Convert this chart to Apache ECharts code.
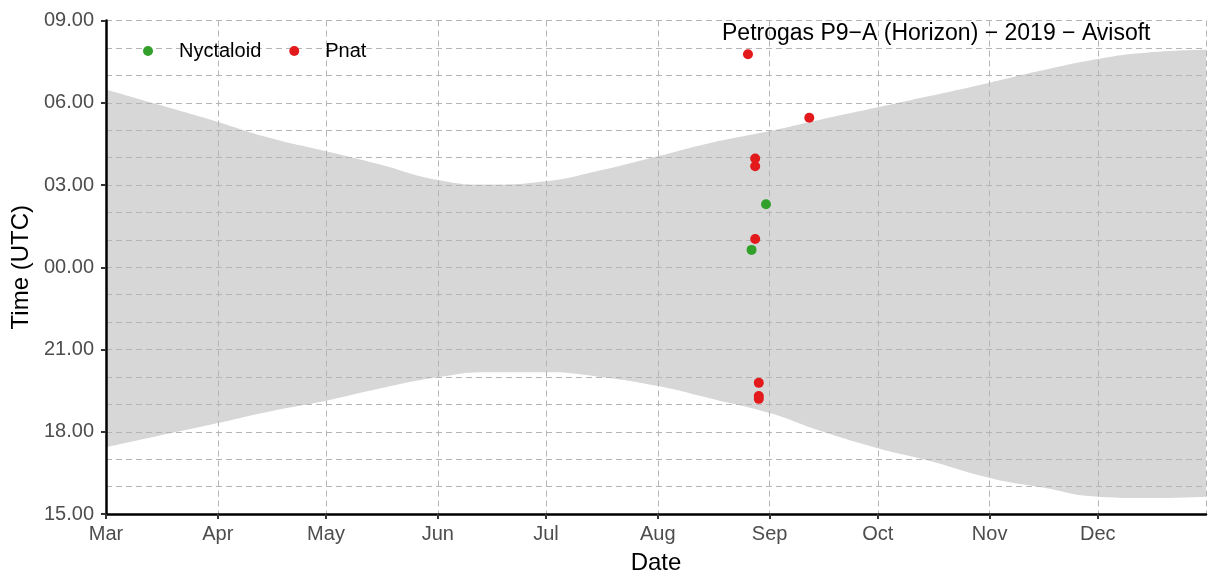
<!DOCTYPE html>
<html>
<head>
<meta charset="utf-8">
<title>Petrogas P9−A (Horizon) − 2019 − Avisoft</title>
<script src="https://cdn.jsdelivr.net/npm/echarts@6/dist/echarts.min.js"></script>
<style>
  html, body { margin: 0; padding: 0; background: #ffffff; }
  #chart { width: 1214px; height: 577px; }
</style>
</head>
<body>
<div id="chart"></div>
<script>
// Night band: sunset (start of night) and sunrise (end of night), UTC clock times
const bandDates = ['2019-03-01','2019-03-15','2019-04-01','2019-04-15','2019-05-01','2019-05-15',
  '2019-06-01','2019-06-15','2019-07-01','2019-07-15','2019-08-01','2019-08-15','2019-09-01',
  '2019-09-15','2019-10-01','2019-10-15','2019-11-01','2019-11-15','2019-12-01','2019-12-15','2019-12-31'];
const sunset  = ['17:26','17:50','18:19','18:44','19:08','19:33','19:59','20:10','20:10','20:01',
  '19:40','19:14','18:41','18:02','17:24','16:57','16:19','15:59','15:38','15:35','15:38'];
const sunrise = ['06:29','05:57','05:18','04:44','04:14','03:47','03:11','03:01','03:08','03:30',
  '04:03','04:31','04:58','05:23','05:50','06:14','06:44','07:10','07:36','07:50','07:56'];

// Recorded bat passes
const nyctaloidDates = ['2019-08-31','2019-08-27'];
const nyctaloidTimes = ['02:18','00:38'];
const pnatDates = ['2019-08-26','2019-09-12','2019-08-28','2019-08-28','2019-08-28','2019-08-29','2019-08-29','2019-08-29'];
const pnatTimes = ['07:46','05:27','03:58','03:41','01:02','19:47','19:18','19:12'];

const seriesNames = ['Nyctaloid', 'Pnat'];
const monthLabels = ['Jan','Feb','Mar','Apr','May','Jun','Jul','Aug','Sep','Oct','Nov','Dec'];
const chartTitle = 'Petrogas P9\u2212A (Horizon) \u2212 2019 \u2212 Avisoft';

// The time axis runs from 15:00 (0) to 09:00 the next morning (18)
const START_HOUR = 15;
function toAxis(clock) {
  const [h, m] = clock.split(':').map(Number);
  return ((h + m / 60) - START_HOUR + 24) % 24;
}
function hourLabel(v) {
  const h = Math.round(START_HOUR + v) % 24;
  return (h < 10 ? '0' : '') + h + '.00';
}

const baseData = bandDates.map((d, i) => [d, toAxis(sunset[i])]);
const bandData = bandDates.map((d, i) => [d, toAxis(sunrise[i]) - toAxis(sunset[i])]);
const nycData = nyctaloidDates.map((d, i) => [d, toAxis(nyctaloidTimes[i])]);
const pnatData = pnatDates.map((d, i) => [d, toAxis(pnatTimes[i])]);

const FONT = 'Liberation Sans, Arial, sans-serif';
const gridLine = { show: true, lineStyle: { color: '#b5b5b5', width: 1, type: [6, 4] } };
const DAY = 24 * 3600 * 1000;

const chart = echarts.init(document.getElementById('chart'), null, { renderer: 'canvas' });
chart.setOption({
  animation: false,
  backgroundColor: '#ffffff',
  textStyle: { fontFamily: FONT },
  title: {
    text: chartTitle,
    left: 722, top: 22, padding: 0,
    textStyle: { fontFamily: FONT, fontSize: 23, fontWeight: 'normal', color: '#000000' }
  },
  legend: {
    data: seriesNames,
    left: 143, top: 41, padding: 0,
    icon: 'circle', itemWidth: 10, itemHeight: 10, itemGap: 28,
    textStyle: { fontFamily: FONT, fontSize: 20, color: '#000000', padding: [0, 0, 0, 21] }
  },
  grid: { left: 106, right: 8, top: 20.5, bottom: 63, containLabel: false, outerBoundsMode: 'none' },
  xAxis: {
    type: 'time',
    min: '2019-03-01', max: '2019-12-31',
    minInterval: 28 * DAY, maxInterval: 31 * DAY,
    splitNumber: 10,
    z: 2,
    name: 'Date', nameLocation: 'middle', nameGap: 37,
    nameTextStyle: { fontFamily: FONT, fontSize: 24, color: '#000000' },
    axisLine: { show: true, onZero: false, lineStyle: { color: '#000000', width: 2.5 } },
    axisTick: { show: true, length: 5, lineStyle: { color: '#333333', width: 2 } },
    axisLabel: {
      fontFamily: FONT, fontSize: 20, color: '#4d4d4d', margin: 10,
      formatter: v => monthLabels[new Date(v).getMonth()]
    },
    splitLine: gridLine
  },
  yAxis: {
    type: 'value',
    min: 0, max: 18, interval: 3,
    z: 2,
    name: 'Time (UTC)', nameLocation: 'middle', nameGap: 70,
    nameTextStyle: { fontFamily: FONT, fontSize: 24, color: '#000000' },
    axisLine: { show: true, lineStyle: { color: '#000000', width: 2.5 } },
    axisTick: { show: true, length: 5, lineStyle: { color: '#333333', width: 2 } },
    axisLabel: { fontFamily: FONT, fontSize: 20, color: '#4d4d4d', margin: 12, formatter: hourLabel },
    splitLine: gridLine,
    minorTick: { show: false, splitNumber: 3 },
    minorSplitLine: gridLine
  },
  series: [
    {
      name: 'sunset', type: 'line', stack: 'night', data: baseData,
      smooth: true, symbol: 'none', silent: true, z: 1,
      lineStyle: { opacity: 0 }
    },
    {
      name: 'night', type: 'line', stack: 'night', data: bandData,
      smooth: true, symbol: 'none', silent: true, z: 1,
      lineStyle: { opacity: 0 },
      areaStyle: { color: '#d7d7d7', opacity: 1 }
    },
    {
      name: seriesNames[0], type: 'scatter', data: nycData, z: 3,
      symbol: 'circle', symbolSize: 10, itemStyle: { color: '#33a02c', opacity: 1 }
    },
    {
      name: seriesNames[1], type: 'scatter', data: pnatData, z: 3,
      symbol: 'circle', symbolSize: 10, itemStyle: { color: '#e31a1c', opacity: 1 }
    }
  ]
});
</script>
</body>
</html>
